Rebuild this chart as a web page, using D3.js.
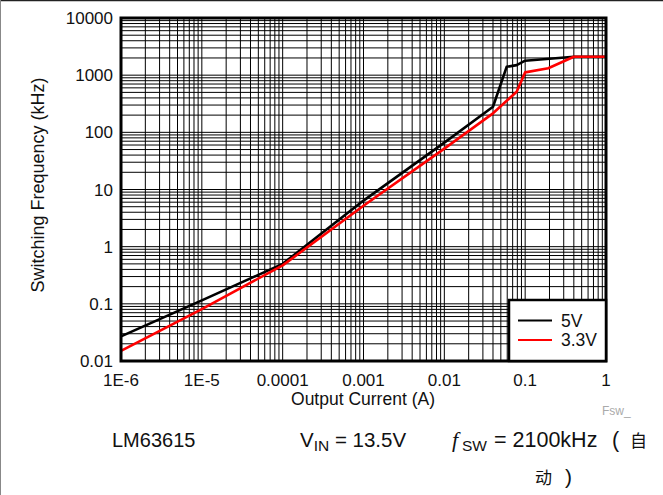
<!DOCTYPE html>
<html><head><meta charset="utf-8">
<script src="https://cdn.jsdelivr.net/npm/d3@7/dist/d3.min.js"></script>
<style>
html,body{margin:0;padding:0;background:#fff;}
svg{display:block;font-family:"Liberation Sans",Arial,Helvetica,sans-serif;}
</style></head>
<body>
<script>
// Data
const current5V   = [1e-6, 1e-5, 1e-4, 1e-3, 1e-2, 0.04, 0.059, 0.0785, 0.1, 0.4, 1];
const freq5V      = [0.027, 0.115, 0.5, 6.4, 66, 280, 1400, 1500, 1790, 2100, 2100];
const current3V3  = [1e-6, 1e-5, 1e-4, 1e-3, 1e-2, 0.04, 0.0785, 0.1, 0.193, 0.4, 1];
const freq3V3     = [0.015, 0.081, 0.47, 5.2, 52, 215, 514, 1120, 1320, 2100, 2100];
const xTickValues = [1e-6, 1e-5, 1e-4, 1e-3, 1e-2, 0.1, 1];
const xTickLabels = ["1E-6", "1E-5", "0.0001", "0.001", "0.01", "0.1", "1"];
const yTickValues = [0.01, 0.1, 1, 10, 100, 1000, 10000];
const yTickLabels = ["0.01", "0.1", "1", "10", "100", "1000", "10000"];
const seriesNames = ["5V", "3.3V"];
const seriesColors = ["#000000", "#ff0000"];

const W = 663, H = 495;
const svg = d3.select("body").append("svg").attr("width", W).attr("height", H);

// frame
svg.append("line").attr("x1",0).attr("x2",W).attr("y1",0.5).attr("y2",0.5).attr("stroke","#222").attr("stroke-width",1.5);
svg.append("line").attr("x1",0.5).attr("x2",0.5).attr("y1",0).attr("y2",H).attr("stroke","#888").attr("stroke-width",1);

const L = 121, R = 606, T = 18, B = 361;
const x = d3.scaleLog().domain([1e-6, 1]).range([L, R]);
const y = d3.scaleLog().domain([0.01, 10000]).range([B, T]);

// grid
const g = svg.append("g");
const xGrid = [];
for (let e = -6; e < 0; e++) for (let m = 1; m <= 9; m++) xGrid.push(m * Math.pow(10, e));
const yGrid = [];
for (let e = -2; e < 4; e++) for (let m = 1; m <= 9; m++) yGrid.push(m * Math.pow(10, e));
g.selectAll(".vg").data(xGrid).join("line")
  .attr("x1", d => x(d)).attr("x2", d => x(d)).attr("y1", T).attr("y2", B)
  .attr("stroke", "#000").attr("stroke-width", 1);
g.selectAll(".hg").data(yGrid).join("line")
  .attr("y1", d => y(d)).attr("y2", d => y(d)).attr("x1", L).attr("x2", R)
  .attr("stroke", "#000").attr("stroke-width", 1);

// lines
const line = d3.line().x(d => x(d[0])).y(d => y(d[1]));
const s5 = current5V.map((c, i) => [c, freq5V[i]]);
const s33 = current3V3.map((c, i) => [c, freq3V3[i]]);
svg.append("path").datum(s5).attr("d", line).attr("fill", "none")
  .attr("stroke", seriesColors[0]).attr("stroke-width", 2.6).attr("stroke-linejoin","round");
svg.append("path").datum(s33).attr("d", line).attr("fill", "none")
  .attr("stroke", seriesColors[1]).attr("stroke-width", 2.6).attr("stroke-linejoin","round");

// plot border
svg.append("rect").attr("x", L).attr("y", T).attr("width", R - L).attr("height", B - T)
  .attr("fill", "none").attr("stroke", "#000").attr("stroke-width", 3);

// tick labels
svg.selectAll(".xl").data(xTickValues).join("text")
  .attr("x", d => x(d)).attr("y", 386).attr("text-anchor", "middle")
  .attr("font-size", 17).attr("fill", "#111").text((d, i) => xTickLabels[i]);
svg.selectAll(".yl").data(yTickValues).join("text")
  .attr("x", 113).attr("y", d => y(d)).attr("dy", "0.36em").attr("text-anchor", "end")
  .attr("font-size", 17).attr("fill", "#111").text((d, i) => yTickLabels[i]);

// axis titles
svg.append("text").attr("x", 363).attr("y", 405).attr("text-anchor", "middle")
  .attr("font-size", 17.5).attr("fill", "#111").text("Output Current (A)");
svg.append("text").attr("transform", `translate(44,185) rotate(-90)`)
  .attr("text-anchor", "middle").attr("font-size", 18).attr("fill", "#111")
  .text("Switching Frequency (kHz)");

// legend
const lg = svg.append("g");
lg.append("rect").attr("x", 509).attr("y", 300).attr("width", 97).attr("height", 61)
  .attr("fill", "#fff").attr("stroke", "#000").attr("stroke-width", 2.5);
seriesNames.forEach((n, i) => {
  const yy = 320.5 + i * 19.5;
  lg.append("line").attr("x1", 518).attr("x2", 552).attr("y1", yy).attr("y2", yy)
    .attr("stroke", seriesColors[i]).attr("stroke-width", 2);
  lg.append("text").attr("x", 561).attr("y", yy).attr("dy", "0.36em")
    .attr("font-size", 17.5).attr("fill", "#111").text(n);
});

// watermark
svg.append("text").attr("x", 602).attr("y", 415).attr("font-size", 12).attr("fill", "#aaa").text("Fsw_");

// bottom caption
const cjk = "'Noto Sans CJK SC',sans-serif";
const cap = svg.append("g").attr("fill", "#111");
cap.append("text").attr("x", 112).attr("y", 447).attr("font-size", 20).text("LM63615");
const vin = cap.append("text").attr("x", 300).attr("y", 447).attr("font-size", 20.5);
vin.append("tspan").text("V");
vin.append("tspan").attr("font-size", 15.5).attr("dy", 4).text("IN");
vin.append("tspan").attr("dy", -4).text(" = 13.5V");
const fsw = cap.append("text").attr("x", 452).attr("y", 447).attr("font-size", 21.5);
fsw.append("tspan").attr("font-family", "'Liberation Serif','DejaVu Serif',serif").attr("font-style", "italic").attr("font-size", 22).text("f");
fsw.append("tspan").attr("x", 462).attr("font-size", 15.5).attr("dy", 4).text("SW");
fsw.append("tspan").attr("x", 494).attr("dy", -4).text("= 2100kHz");
fsw.append("tspan").attr("x", 612).text("(");
cap.append("text").attr("x", 630).attr("y", 447).attr("font-size", 17).attr("font-family", cjk).text("自");
cap.append("text").attr("x", 535).attr("y", 484).attr("font-size", 17).attr("font-family", cjk).text("动");
cap.append("text").attr("x", 565).attr("y", 484).attr("font-size", 21).text(")");
</script>
</body></html>
